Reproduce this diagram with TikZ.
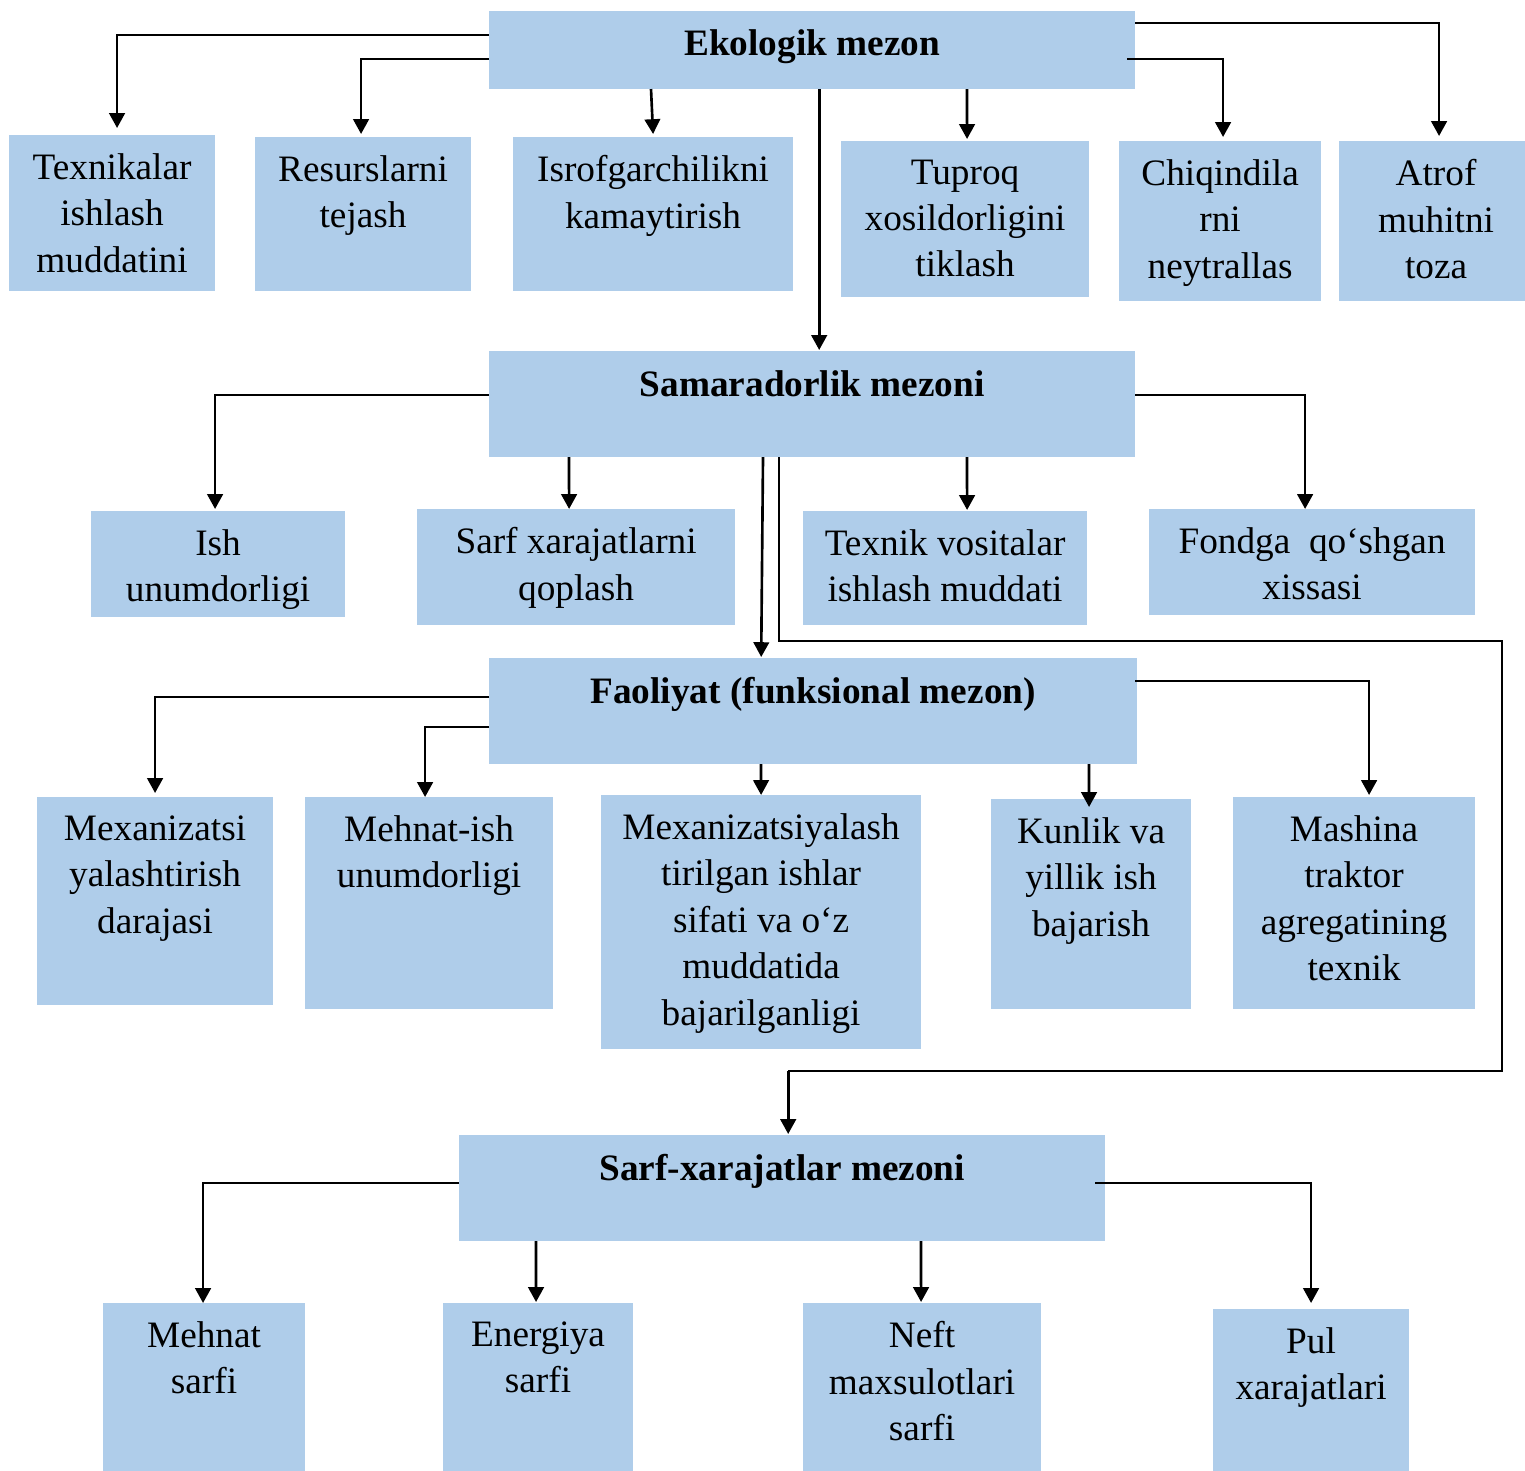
\documentclass[tikz,border=0pt]{standalone}
\usepackage{fontspec}
\setmainfont{Liberation Serif}
\usetikzlibrary{arrows.meta,calc}
\definecolor{boxblue}{RGB}{175,205,234}
\tikzset{
  box/.style={fill=boxblue, draw=none, inner sep=0pt, outer sep=0pt, anchor=north west},
  txt/.style={anchor=north, inner sep=0pt, align=center, font=\fontsize{10.6}{13.2}\selectfont},
  title/.style={txt, font=\fontsize{10.6}{13.2}\selectfont\bfseries},
  arr/.style={line width=0.75pt, -{Triangle[length=4.2pt,width=4.4pt]}},
  loopline/.style={line width=0.4pt}
}
\begin{document}
\begin{tikzpicture}[x=0.01cm, y=-0.01cm]
  \useasboundingbox (0,0) rectangle (1525,1471);
  \node[box, minimum width=6.46cm, minimum height=0.78cm] (eko) at (489,11) {};
  \node[box, minimum width=2.06cm, minimum height=1.56cm] (tex) at (9,135) {};
  \node[box, minimum width=2.16cm, minimum height=1.54cm] (res) at (255,137) {};
  \node[box, minimum width=2.80cm, minimum height=1.54cm] (isr) at (513,137) {};
  \node[box, minimum width=2.48cm, minimum height=1.56cm] (tup) at (841,141) {};
  \node[box, minimum width=2.02cm, minimum height=1.60cm] (chiq) at (1119,141) {};
  \node[box, minimum width=1.86cm, minimum height=1.60cm] (atr) at (1339,141) {};
  \node[box, minimum width=6.46cm, minimum height=1.06cm] (sam) at (489,351) {};
  \node[box, minimum width=2.54cm, minimum height=1.06cm] (ish) at (91,511) {};
  \node[box, minimum width=3.18cm, minimum height=1.16cm] (qop) at (417,509) {};
  \node[box, minimum width=2.84cm, minimum height=1.14cm] (vos) at (803,511) {};
  \node[box, minimum width=3.26cm, minimum height=1.06cm] (fond) at (1149,509) {};
  \node[box, minimum width=6.48cm, minimum height=1.06cm] (fao) at (489,658) {};
  \node[box, minimum width=2.36cm, minimum height=2.08cm] (mex) at (37,797) {};
  \node[box, minimum width=2.48cm, minimum height=2.12cm] (meh) at (305,797) {};
  \node[box, minimum width=3.20cm, minimum height=2.54cm] (sif) at (601,795) {};
  \node[box, minimum width=2.00cm, minimum height=2.10cm] (kun) at (991,799) {};
  \node[box, minimum width=2.42cm, minimum height=2.12cm] (mash) at (1233,797) {};
  \node[box, minimum width=6.46cm, minimum height=1.06cm] (sarf) at (459,1135) {};
  \node[box, minimum width=2.02cm, minimum height=1.68cm] (msarf) at (103,1303) {};
  \node[box, minimum width=1.90cm, minimum height=1.68cm] (esarf) at (443,1303) {};
  \node[box, minimum width=2.38cm, minimum height=1.68cm] (nsarf) at (803,1303) {};
  \node[box, minimum width=1.96cm, minimum height=1.62cm] (pul) at (1213,1309) {};

  \node[title] at ($(eko.north)+(0,18)$) {Ekologik mezon};
  \node[txt] at ($(tex.north)+(0,18)$) {Texnikalar\\ishlash\\muddatini};
  \node[txt] at ($(res.north)+(0,18)$) {Resurslarni\\tejash};
  \node[txt] at ($(isr.north)+(0,18)$) {Isrofgarchilikni\\kamaytirish};
  \node[txt] at ($(tup.north)+(0,18)$) {Tuproq\\xosildorligini\\tiklash};
  \node[txt] at ($(chiq.north)+(0,18)$) {Chiqindila\\rni\\neytrallas};
  \node[txt] at ($(atr.north)+(4,18)$) {Atrof\\muhitni\\toza};
  \node[title] at ($(sam.north)+(0,19)$) {Samaradorlik mezoni};
  \node[txt] at ($(ish.north)+(0,18)$) {Ish\\unumdorligi};
  \node[txt] at ($(qop.north)+(0,18)$) {Sarf xarajatlarni\\qoplash};
  \node[txt] at ($(vos.north)+(0,18)$) {Texnik vositalar\\ishlash muddati};
  \node[txt] at ($(fond.north)+(0,18)$) {Fondga~~qo‘shgan\\xissasi};
  \node[title] at ($(fao.north)+(0,19)$) {Faoliyat (funksional mezon)};
  \node[txt] at ($(mex.north)+(0,18)$) {Mexanizatsi\\yalashtirish\\darajasi};
  \node[txt] at ($(meh.north)+(0,18)$) {Mehnat-ish\\unumdorligi};
  \node[txt] at ($(sif.north)+(0,18)$) {Mexanizatsiyalash\\tirilgan ishlar\\sifati va o‘z\\muddatida\\bajarilganligi};
  \node[txt] at ($(kun.north)+(0,18)$) {Kunlik va\\yillik ish\\bajarish};
  \node[txt] at ($(mash.north)+(0,18)$) {Mashina\\traktor\\agregatining\\texnik};
  \node[title] at ($(sarf.north)+(0,19)$) {Sarf-xarajatlar mezoni};
  \node[txt] at ($(msarf.north)+(0,18)$) {Mehnat\\sarfi};
  \node[txt] at ($(esarf.north)+(0,18)$) {Energiya\\sarfi};
  \node[txt] at ($(nsarf.north)+(0,18)$) {Neft\\maxsulotlari\\sarfi};
  \node[txt] at ($(pul.north)+(0,18)$) {Pul\\xarajatlari};

  \coordinate (loopa) at (1502,641);
  \coordinate (loopb) at (1502,1071);
  \coordinate (loopc) at ($(sarf.north)+(6,-64)$);

  \begin{scope}[arr]
    \draw ($(eko.north west)+(0,24)$) -| ($(tex.north)+(5,-7)$);
    \draw ($(eko.north west)+(0,48)$) -| ($(res.north)+(-2,-3)$);
    \draw ($(eko.south west)+(162,0)$) -- ($(isr.north)+(0,-3)$);
    \draw ($(eko.south west)+(478,0)$) -- ($(tup.north)+(2,-2)$);
    \draw ($(eko.north east)+(-8,48)$) -| ($(chiq.north)+(3,-4)$);
    \draw ($(eko.north east)+(0,12)$) -| ($(atr.north)+(7,-5)$);
    \draw ($(eko.south)+(7,0)$) -- ($(sam.north)+(7,-1)$);
    \draw ($(sam.north west)+(0,44)$) -| ($(ish.north)+(-3,-2)$);
    \draw ($(sam.south west)+(80,0)$) -- ($(qop.north)+(-7,0)$);
    \draw ($(sam.south west)+(478,0)$) -- ($(vos.north)+(22,-1)$);
    \draw ($(sam.north east)+(0,44)$) -| ($(fond.north)+(-7,0)$);
    \draw ($(sam.south west)+(274,0)$) -- ($(fao.north)+(-52,-1)$);
    \draw ($(fao.north west)+(0,39)$) -| ($(mex.north)+(0,-4)$);
    \draw ($(fao.north west)+(0,69)$) -| ($(meh.north)+(-4,0)$);
    \draw ($(fao.south west)+(272,0)$) -- (sif.north);
    \draw ($(fao.south west)+(600,0)$) -- ($(kun.north)+(-2,8)$);
    \draw ($(fao.north east)+(-2,23)$) -| ($(mash.north)+(15,-2)$);
    \draw ($(sarf.north west)+(0,48)$) -| ($(msarf.north)+(-1,0)$);
    \draw ($(sarf.south west)+(77,0)$) -- ($(esarf.north)+(-2,-1)$);
    \draw ($(sarf.south west)+(462,0)$) -- ($(nsarf.north)+(-1,-1)$);
    \draw ($(sarf.north east)+(-10,48)$) -| ($(pul.north)+(0,-6)$);
    \draw (loopc) -- ($(sarf.north)+(6,-1)$);
  \end{scope}
  \draw[loopline] ($(sam.south west)+(290,0)$) |- (loopa) -- (loopb) -- (loopc);
\end{tikzpicture}
\end{document}
